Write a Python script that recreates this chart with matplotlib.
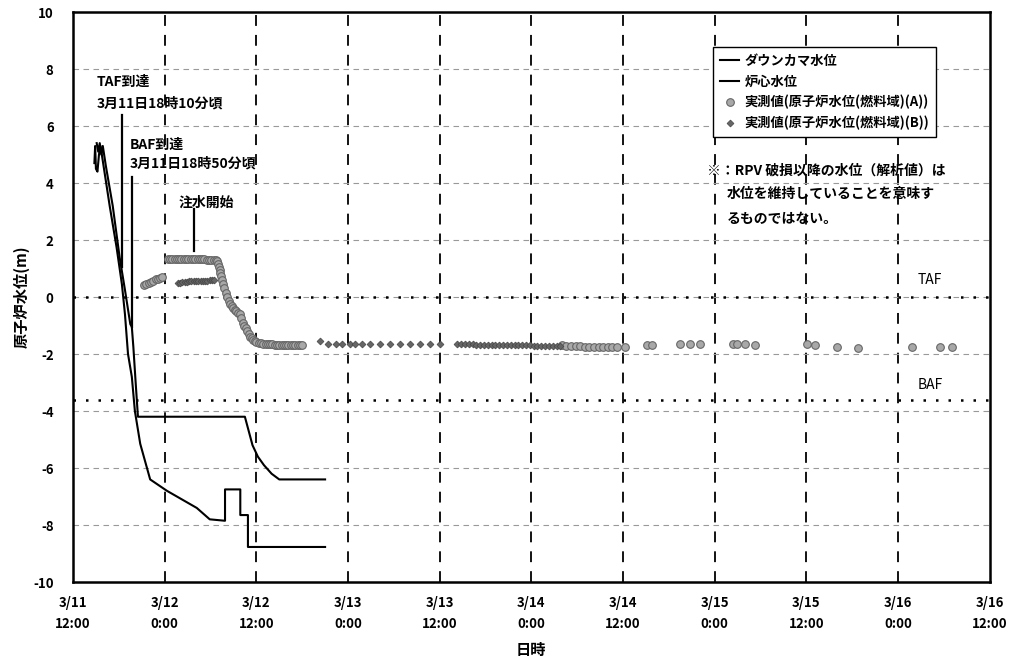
import numpy as np
import matplotlib.pyplot as plt

plt.rcParams['font.family'] = ['Noto Sans CJK JP', 'DejaVu Sans']

# hours since 3/11 12:00
tick_hours = [0, 12, 24, 36, 48, 60, 72, 84, 96, 108, 120]
tick_labels = ["3/11\n12:00", "3/12\n0:00", "3/12\n12:00", "3/13\n0:00", "3/13\n12:00",
               "3/14\n0:00", "3/14\n12:00", "3/15\n0:00", "3/15\n12:00", "3/16\n0:00",
               "3/16\n12:00"]

# analysis curves
dc_h = [3.1, 3.3, 3.5, 3.7, 3.9, 4.3, 5.2, 6.1, 6.8, 7.5, 7.7, 7.9, 8.2, 8.5,
        22.5, 23.0, 23.5, 24.2, 25.0, 26.0, 27.0, 33.0]
dc_y = [5.4, 5.1, 5.4, 5.0, 5.3, 4.6, 3.2, 1.4, 0.25, -0.95, -1.05, -1.75, -3.0, -4.2,
        -4.2, -4.7, -5.2, -5.6, -5.9, -6.2, -6.4, -6.4]

core_h = [2.8, 2.9, 3.0, 3.2, 3.4, 3.6, 4.0, 4.8, 5.7, 6.4, 6.8, 7.2, 7.7, 8.1, 8.8,
          10.1, 12.3, 16.2, 17.9, 19.9, 19.9, 21.9, 21.9, 22.9, 22.9, 33.0]
core_y = [4.7, 5.3, 4.5, 4.4, 5.0, 5.3, 4.6, 3.2, 1.75, 0.45, -0.6, -2.0, -2.8, -4.0, -5.15,
          -6.4, -6.8, -7.4, -7.8, -7.85, -6.75, -6.75, -7.65, -7.65, -8.77, -8.77]

# measured values, fuel range A
meas_a_h = [9.3, 9.6, 9.9, 10.2, 10.5, 10.8, 11.1, 11.4, 11.7,
            12.4, 12.7, 13.0, 13.3, 13.6, 13.9, 14.2, 14.5, 14.8, 15.1, 15.4, 15.7, 16.0,
            16.3, 16.6, 16.9, 17.2, 17.5, 17.8, 18.1, 18.4, 18.7,
            18.9, 19.0, 19.1, 19.2, 19.3, 19.4, 19.5, 19.6, 19.8, 20.0, 20.2, 20.4, 20.6,
            20.8, 21.0, 21.2, 21.4, 21.6, 21.8, 22.0, 22.2, 22.4, 22.6, 22.8, 23.0, 23.2,
            23.4, 23.6, 23.8, 24.0, 24.3, 24.6, 24.9, 25.2, 25.5, 25.8, 26.1, 26.4, 26.7,
            27.0, 27.3, 27.6, 27.9, 28.2, 28.5, 28.8, 29.1, 29.4, 29.7, 30.0,
            64.0, 64.6, 65.2, 65.8, 66.4, 67.0, 67.6, 68.2, 68.8, 69.4, 70.0, 70.6, 71.2,
            72.3, 75.1, 75.8, 79.5, 80.8, 82.1, 86.4, 86.9, 88.0, 89.3, 96.1, 97.1,
            100.0, 102.7, 109.8, 113.5, 115.1]
meas_a_y = [0.42, 0.46, 0.5, 0.54, 0.58, 0.62, 0.65, 0.68, 0.72,
            1.33, 1.33, 1.33, 1.33, 1.33, 1.33, 1.33, 1.33, 1.33, 1.33, 1.33, 1.33, 1.33,
            1.33, 1.33, 1.32, 1.32, 1.31, 1.31, 1.3, 1.3, 1.3,
            1.25, 1.15, 1.05, 0.95, 0.85, 0.75, 0.6, 0.45, 0.3, 0.15, 0.0, -0.15, -0.25,
            -0.3, -0.4, -0.45, -0.5, -0.55, -0.6, -0.75, -0.9, -1.0, -1.1, -1.2, -1.3, -1.4,
            -1.45, -1.5, -1.55, -1.58, -1.6, -1.62, -1.64, -1.65, -1.65, -1.66, -1.66, -1.67, -1.67,
            -1.67, -1.67, -1.68, -1.68, -1.68, -1.68, -1.68, -1.68, -1.68, -1.68, -1.68,
            -1.7, -1.71, -1.72, -1.72, -1.73, -1.74, -1.74, -1.75, -1.75, -1.75, -1.75, -1.75, -1.75,
            -1.75, -1.7, -1.7, -1.65, -1.65, -1.65, -1.65, -1.65, -1.65, -1.68, -1.65, -1.68,
            -1.75, -1.8, -1.75, -1.75, -1.75]

# measured values, fuel range B
meas_b_h = [13.7, 14.0, 14.3, 14.6, 14.9, 15.2, 15.5, 15.8, 16.1, 16.4, 16.7, 17.0,
            17.3, 17.6, 17.9, 18.2, 18.5,
            32.3, 33.4, 34.4, 35.2, 36.3, 36.9, 37.8, 38.9, 40.2, 41.5, 42.8, 44.1, 45.4,
            46.7, 48.0, 50.3, 50.8, 51.3, 51.8, 52.3, 52.8, 53.3, 53.8, 54.3, 54.8, 55.3,
            55.8, 56.3, 56.8, 57.3, 57.8, 58.3, 58.8, 59.3, 59.8, 60.3, 60.8, 61.3, 61.8,
            62.3, 62.8, 63.3, 63.8]
meas_b_y = [0.5, 0.51, 0.52, 0.53, 0.54, 0.55, 0.55, 0.55, 0.56, 0.56, 0.57, 0.57,
            0.58, 0.58, 0.59, 0.6, 0.6,
            -1.55, -1.65, -1.65, -1.65, -1.65, -1.65, -1.65, -1.65, -1.65, -1.65, -1.65,
            -1.65, -1.65, -1.65, -1.65, -1.65, -1.65, -1.66, -1.66, -1.66, -1.67, -1.67,
            -1.67, -1.68, -1.68, -1.68, -1.68, -1.69, -1.69, -1.69, -1.7, -1.7, -1.7,
            -1.7, -1.7, -1.71, -1.71, -1.71, -1.72, -1.72, -1.72, -1.72, -1.72]

taf_level = 0.0
baf_level = -3.6

fig = plt.figure(figsize=(10.14, 6.69), dpi=100)
ax = fig.add_axes([0.072, 0.130, 0.904, 0.852])

ax.set_xlim(0, 120)
ax.set_ylim(-10, 10)

# grid
for h in tick_hours[1:-1]:
    ax.axvline(h, color='black', lw=1.3, ls=(0, (6, 5)), zorder=1)
for yv in range(-8, 10, 2):
    ax.axhline(yv, color='#999999', lw=0.8, ls=(0, (5, 4)), zorder=1)

ax.axhline(taf_level, color='black', lw=1.8, ls=(0, (1, 4)), zorder=2)
ax.axhline(baf_level, color='black', lw=1.8, ls=(0, (1, 4)), zorder=2)

ax.plot(dc_h, dc_y, color='black', lw=1.5, label='ダウンカマ水位', zorder=4)
ax.plot(core_h, core_y, color='black', lw=1.5, label='炉心水位', zorder=4)
ax.plot(meas_a_h, meas_a_y, ls='none', marker='o', ms=5.5, mfc='#a8a8a8', mec='#666666',
        mew=0.8, label='実測値(原子炉水位(燃料域)(A))', zorder=3)
ax.plot(meas_b_h, meas_b_y, ls='none', marker='D', ms=3.5, mfc='#666666', mec='#444444',
        mew=0.5, label='実測値(原子炉水位(燃料域)(B))', zorder=3)

# annotation markers
ax.plot([6.4, 6.4], [1.05, 6.4], color='black', lw=1.6)
ax.plot([7.7, 7.7], [-1.05, 4.2], color='black', lw=1.6)
ax.plot([15.9, 15.9], [1.6, 3.1], color='black', lw=1.6)

ax.text(3.1, 7.55, 'TAF到達', fontsize=10, fontweight='bold', va='center')
ax.text(3.1, 6.8, '3月11日18時10分頃', fontsize=10, fontweight='bold', va='center')
ax.text(7.4, 5.35, 'BAF到達', fontsize=10, fontweight='bold', va='center')
ax.text(7.4, 4.7, '3月11日18時50分頃', fontsize=10, fontweight='bold', va='center')
ax.text(13.8, 3.3, '注水開始', fontsize=10, fontweight='bold', va='center')

ax.text(83.0, 4.45, '※：RPV 破損以降の水位（解析値）は', fontsize=10, fontweight='bold', va='center')
ax.text(85.6, 3.6, '水位を維持していることを意味す', fontsize=10, fontweight='bold', va='center')
ax.text(85.6, 2.75, 'るものではない。', fontsize=10, fontweight='bold', va='center')

ax.text(112.2, 0.6, 'TAF', fontsize=10, ha='center', va='center')
ax.text(112.2, -3.1, 'BAF', fontsize=10, ha='center', va='center')

ax.set_xticks(tick_hours)
ax.set_xticklabels(tick_labels, fontsize=9.5, fontweight='bold', linespacing=1.6)
ax.set_yticks(range(-10, 11, 2))
ax.set_yticklabels([str(v) for v in range(-10, 11, 2)], fontsize=9.5, fontweight='bold')
ax.tick_params(length=0)
ax.tick_params(axis='y', pad=14)
ax.tick_params(axis='x', pad=10)

ax.set_xlabel('日時', fontsize=11, fontweight='bold', labelpad=8)
ax.set_ylabel('原子炉水位(m)', fontsize=11, fontweight='bold', labelpad=2)

for sp in ax.spines.values():
    sp.set_linewidth(1.8)

leg = ax.legend(loc='upper left', bbox_to_anchor=(0.691, 0.95),
                handlelength=1.5, handletextpad=0.4, borderpad=0.5, labelspacing=0.5,
                fancybox=False, framealpha=1, edgecolor='black',
                prop={'weight': 'bold', 'size': 9.5})
leg.get_frame().set_linewidth(1.0)

fig.savefig('out.png', dpi=100)
